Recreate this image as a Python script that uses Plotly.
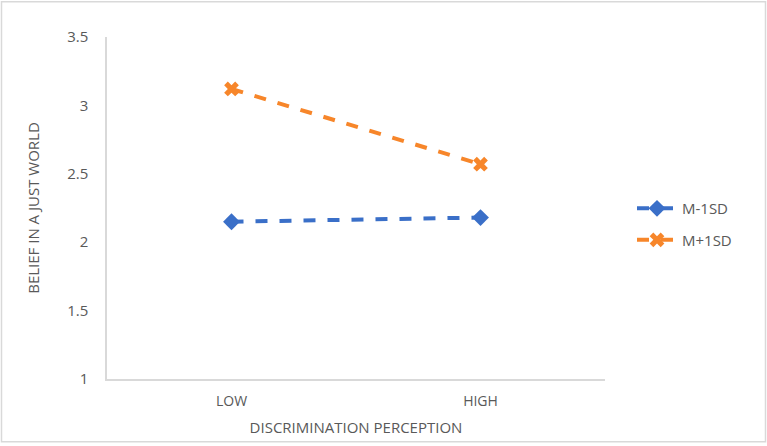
import plotly.graph_objects as go

categories = ["LOW", "HIGH"]
m_minus_1sd = [2.15, 2.18]
m_plus_1sd = [3.12, 2.57]
series_names = ["M-1SD", "M+1SD"]

W, H = 767, 446
L, R, T, B = 107, 162, 37, 65
pw, ph = W - L - R, H - T - B

fig = go.Figure()
fig.add_trace(go.Scatter(
    x=categories, y=m_minus_1sd, name=series_names[0], mode="lines+markers",
    legendgroup="a",
    line=dict(color="#3A6FC8", width=4, dash="dash"),
    marker=dict(symbol="diamond", size=13, color="#3A6FC8"),
))
fig.add_trace(go.Scatter(
    x=categories, y=m_plus_1sd, name=series_names[1], mode="lines+markers",
    legendgroup="b",
    line=dict(color="#F7862A", width=4, dash="dash"),
    marker=dict(symbol="x", size=13, color="#F7862A"),
))

def px(x):
    return (x - L) / pw

def py(y):
    return (H - B - y) / ph

fig.update_layout(
    width=W, height=H,
    margin=dict(l=L, r=R, t=T, b=B),
    paper_bgcolor="white", plot_bgcolor="white",
    font=dict(family="Open Sans", size=14, color="#595959"),
    showlegend=True,
    legend=dict(x=px(632), y=py(193), xanchor="left", yanchor="top",
                font=dict(size=15, color="#595959"), tracegroupgap=9,
                itemwidth=40, bgcolor="rgba(0,0,0,0)"),
    xaxis=dict(type="category", range=[-0.5, 1.5], showgrid=False,
               showline=True, linecolor="#D9D9D9", linewidth=1.5,
               ticks="", ticklabelstandoff=8,
               tickfont=dict(size=14, color="#595959"),
               title=dict(text="DISCRIMINATION PERCEPTION", standoff=14,
                          font=dict(size=15, color="#595959"))),
    yaxis=dict(range=[1, 3.5], dtick=0.5, showgrid=False, zeroline=False,
               showline=True, linecolor="#D9D9D9", linewidth=1.5,
               ticks="", ticklabelstandoff=14,
               tickfont=dict(size=15, color="#595959"),
               title=dict(text="BELIEF IN A JUST WORLD", standoff=24,
                          font=dict(size=15, color="#595959"))),
    shapes=[dict(type="rect", xref="paper", yref="paper",
                 x0=px(1.5), x1=px(765.5), y0=py(444), y1=py(1.5),
                 line=dict(color="#D9D9D9", width=1.5), layer="below")],
)

fig.write_html("out.html")
